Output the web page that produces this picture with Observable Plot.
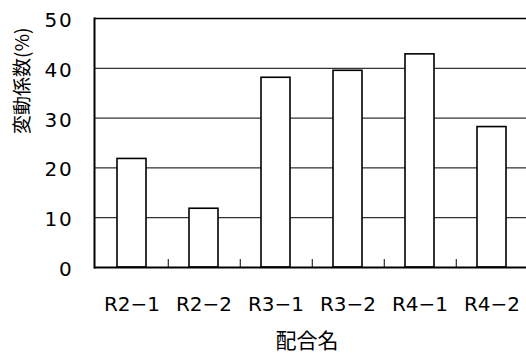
<!DOCTYPE html>
<html>
<head>
<meta charset="utf-8">
<script src="https://cdn.jsdelivr.net/npm/d3@7"></script>
<script src="https://cdn.jsdelivr.net/npm/@observablehq/plot@0.6"></script>
<style>
  html, body { margin: 0; padding: 0; background: #fff; overflow: hidden; }
  g[aria-label="y-axis tick label"] text { letter-spacing: 1.8px; }
</style>
</head>
<body>
<div id="chart"></div>
<script>
const categories = ["R2−1", "R2−2", "R3−1", "R3−2", "R4−1", "R4−2"];
const values = [21.8, 11.8, 38.1, 39.5, 42.8, 28.2];
const yTicks = [0, 10, 20, 30, 40, 50];
const yLabel = "変動係数(%)";
const xLabel = "配合名";

const data = categories.map((c, i) => ({cat: c, v: values[i]}));

const chart = Plot.plot({
  width: 526,
  height: 353,
  marginLeft: 94,
  marginRight: -3,
  marginTop: 18,
  marginBottom: 86,
  style: {fontFamily: "'DejaVu Sans', sans-serif", background: "#fff", color: "#000"},
  x: {domain: categories, paddingInner: 0.6, paddingOuter: 0.3},
  y: {domain: [0, 50]},
  marks: [
    Plot.ruleY([10, 20, 30, 40], {stroke: "#000", strokeWidth: 1}),
    Plot.ruleY([50], {stroke: "#000", strokeWidth: 1.6}),
    Plot.barY(data, {x: "cat", y: "v", fill: "#fff", stroke: "#000", strokeWidth: 1.6}),
    Plot.ruleX(categories, {x: d => d, y1: 0, y2: 1.6, dx: 36.25, stroke: "#000", strokeWidth: 1}),
    Plot.ruleY([0], {stroke: "#000", strokeWidth: 2}),
    Plot.frame({anchor: "left", stroke: "#000", strokeWidth: 2}),
    Plot.axisY({ticks: yTicks, tickSize: 0, tickPadding: 21, fontSize: 20, dy: 2, label: null}),
    Plot.axisX({tickSize: 0, tickPadding: 29, fontSize: 20, label: null}),
    Plot.text([yLabel], {frameAnchor: "left", rotate: -90, dx: -72, dy: -9, fontSize: 19, fontFamily: "'Noto Sans CJK JP', sans-serif", fill: "#000"}),
    Plot.text([xLabel], {frameAnchor: "bottom", dx: -5, dy: 73.5, lineAnchor: "middle", fontSize: 21, fontFamily: "'Noto Sans CJK JP', sans-serif", fill: "#000"})
  ]
});
document.getElementById("chart").appendChild(chart);
</script>
</body>
</html>
